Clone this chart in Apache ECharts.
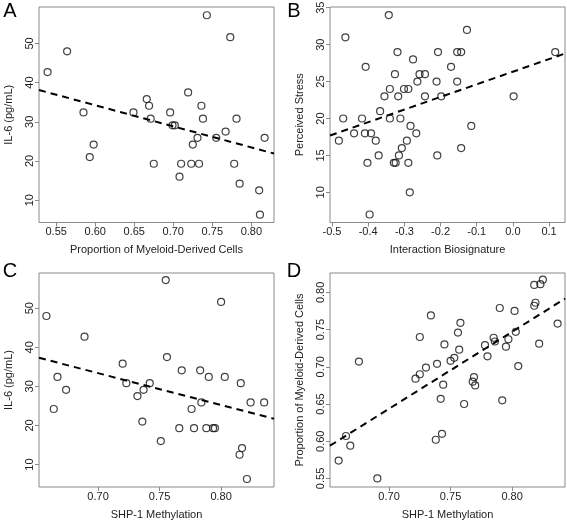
<!DOCTYPE html>
<html>
<head>
<meta charset="utf-8">
<script src="https://cdn.jsdelivr.net/npm/echarts@6/dist/echarts.min.js"></script>
<style>
html,body{margin:0;padding:0;background:#fff;}
#chart{width:567px;height:522px;}
</style>
</head>
<body>
<div id="chart"></div>
<script>
// ---- Panel A: Proportion of Myeloid-Derived Cells vs IL-6 ----
const aX = [0.539,0.564,0.585,0.593,0.598,0.649,0.666,0.669,0.671,0.675,0.696,0.699,0.702,0.708,0.710,0.719,0.723,0.725,0.731,0.733,0.736,0.738,0.743,0.755,0.767,0.773,0.778,0.781,0.785,0.810,0.811,0.817];
const aY = [42.7,48.0,32.4,21.0,24.2,32.4,35.8,34.1,30.8,19.3,32.4,29.1,29.1,16.0,19.3,37.5,19.3,24.2,25.9,19.3,34.1,30.8,57.2,25.9,27.5,51.6,19.3,30.8,14.2,12.5,6.3,25.9];
const aFitX = [0.528, 0.829];
const aFitY = [38.1, 21.9];
const aXTicks = [0.55,0.60,0.65,0.70,0.75,0.80];
const aYTicks = [10,20,30,40,50];

// ---- Panel B: Interaction Biosignature vs Perceived Stress ----
const bX = [-0.481,-0.469,-0.463,-0.439,-0.417,-0.409,-0.407,-0.402,-0.396,-0.392,-0.379,-0.371,-0.367,-0.355,-0.343,-0.340,-0.340,-0.326,-0.329,-0.324,-0.319,-0.317,-0.315,-0.311,-0.307,-0.301,-0.293,-0.289,-0.289,-0.285,-0.283,-0.276,-0.267,-0.264,-0.258,-0.243,-0.243,-0.211,-0.209,-0.207,-0.198,-0.171,-0.154,-0.154,-0.143,-0.143,-0.127,-0.115,0.002,0.117];
const bY = [17,20,31,18,20,18,27,14,7,18,17,15,21,23,34,24,20,26,14,14,29,23,15,20,16,24,17,24,14,10,19,28,18,25,26,23,26,25,15,29,23,27,29,25,29,16,32,19,23,29];
const bFitX = [-0.5055, 0.144];
const bFitY = [17.7, 28.8];
const bXTicks = [-0.5,-0.4,-0.3,-0.2,-0.1,0.0,0.1];
const bYTicks = [10,15,20,25,30,35];

// ---- Panel C: SHP-1 Methylation vs IL-6 ----
const cX = [0.658,0.664,0.667,0.674,0.689,0.720,0.723,0.732,0.736,0.737,0.742,0.751,0.755,0.756,0.766,0.768,0.776,0.778,0.783,0.784,0.788,0.790,0.7935,0.795,0.800,0.803,0.815,0.816,0.817,0.821,0.824,0.835];
const cY = [48.0,24.2,32.4,29.1,42.7,35.8,30.8,27.5,21.0,29.1,30.8,16.0,57.2,37.5,19.3,34.1,24.2,19.3,34.1,25.9,19.3,32.4,19.3,19.3,51.6,32.4,12.5,30.8,14.2,6.3,25.9,25.9];
const cFitX = [0.652, 0.843];
const cFitY = [37.3, 21.7];
const cXTicks = [0.70,0.75,0.80];
const cYTicks = [10,20,30,40,50];

// ---- Panel D: SHP-1 Methylation vs Proportion of Myeloid-Derived Cells ----
const dX = [0.659,0.665,0.6685,0.6755,0.6905,0.7215,0.725,0.725,0.730,0.734,0.739,0.738,0.742,0.743,0.744,0.745,0.750,0.753,0.756,0.757,0.758,0.761,0.768,0.769,0.770,0.778,0.780,0.785,0.786,0.790,0.792,0.795,0.797,0.802,0.803,0.805,0.818,0.818,0.819,0.822,0.823,0.825,0.837];
const dY = [0.574,0.607,0.594,0.707,0.550,0.684,0.690,0.740,0.699,0.769,0.704,0.602,0.657,0.610,0.676,0.730,0.708,0.712,0.746,0.723,0.759,0.650,0.680,0.686,0.675,0.729,0.714,0.739,0.734,0.779,0.655,0.727,0.737,0.775,0.747,0.701,0.810,0.782,0.786,0.731,0.811,0.817,0.758];
const dFitX = [0.652, 0.843];
const dFitY = [0.594, 0.7915];
const dXTicks = [0.70,0.75,0.80];
const dYTicks = [0.55,0.60,0.65,0.70,0.75,0.80];

const FONT = "'Liberation Sans', Arial, sans-serif";
const TXT = '#222';
const BOX = '#8a8a8a';

const panels = [
  {letter:'A', grid:{left:39, top:7, width:235, height:215.5},
   xs:aX, ys:aY, fx:aFitX, fy:aFitY, xt:aXTicks, yt:aYTicks,
   xr:[0.528,0.829], yr:[4.3,59.3], xd:2, yd:0,
   xName:'Proportion of Myeloid-Derived Cells', yName:'IL-6 (pg/mL)', lx:10, ly:11},
  {letter:'B', grid:{left:330, top:7, width:235, height:215.5},
   xs:bX, ys:bY, fx:bFitX, fy:bFitY, xt:bXTicks, yt:bYTicks,
   xr:[-0.5055,0.144], yr:[5.92,35.1], xd:1, yd:0,
   xName:'Interaction Biosignature', yName:'Perceived Stress', lx:294, ly:11},
  {letter:'C', grid:{left:39, top:273, width:235, height:214},
   xs:cX, ys:cY, fx:cFitX, fy:cFitY, xt:cXTicks, yt:cYTicks,
   xr:[0.652,0.843], yr:[4.25,59.0], xd:2, yd:0,
   xName:'SHP-1 Methylation', yName:'IL-6 (pg/mL)', lx:10, ly:271},
  {letter:'D', grid:{left:330, top:273, width:235, height:214},
   xs:dX, ys:dY, fx:dFitX, fy:dFitY, xt:dXTicks, yt:dYTicks,
   xr:[0.652,0.843], yr:[0.5385,0.826], xd:2, yd:2,
   xName:'SHP-1 Methylation', yName:'Proportion of Myeloid-Derived Cells', lx:294, ly:271}
];

const option = {
  animation:false,
  backgroundColor:'#fff',
  grid:[], xAxis:[], yAxis:[], series:[], graphic:[]
};

panels.forEach((p,i)=>{
  option.grid.push(Object.assign({
    show:true, borderColor:BOX, borderWidth:1, backgroundColor:'transparent',
    containLabel:false, outerBoundsMode:'none'
  }, p.grid));
  option.xAxis.push({
    gridIndex:i, type:'value', min:p.xr[0], max:p.xr[1], position:'bottom',
    axisLine:{show:false, onZero:false}, splitLine:{show:false},
    axisTick:{show:true, length:4, lineStyle:{color:BOX}, customValues:p.xt},
    axisLabel:{customValues:p.xt, margin:4, color:TXT, fontSize:11, fontFamily:FONT,
      formatter:(v)=>Number(v).toFixed(p.xd)},
    name:p.xName, nameLocation:'middle', nameGap:22,
    nameTextStyle:{fontSize:11, color:TXT, fontFamily:FONT}
  });
  option.yAxis.push({
    gridIndex:i, type:'value', min:p.yr[0], max:p.yr[1], position:'left',
    axisLine:{show:false, onZero:false}, splitLine:{show:false},
    axisTick:{show:true, length:4, lineStyle:{color:BOX}, customValues:p.yt},
    axisLabel:{customValues:p.yt, margin:4, rotate:90, color:TXT, fontSize:11, fontFamily:FONT,
      formatter:(v)=>Number(v).toFixed(p.yd)},
    name:p.yName, nameLocation:'middle', nameGap:25,
    nameTextStyle:{fontSize:11, color:TXT, fontFamily:FONT}
  });
  option.series.push({
    type:'line', xAxisIndex:i, yAxisIndex:i, symbol:'none', silent:true,
    data:p.fx.map((x,k)=>[x,p.fy[k]]),
    lineStyle:{color:'#000', width:2, type:[7,5]}, z:2
  });
  option.series.push({
    type:'scatter', xAxisIndex:i, yAxisIndex:i, symbol:'circle', symbolSize:7, silent:true,
    data:p.xs.map((x,k)=>[x,p.ys[k]]),
    itemStyle:{color:'transparent', borderColor:'#111', borderWidth:1.2}, z:3
  });
  option.graphic.push({
    type:'text', x:p.lx, y:p.ly,
    style:{text:p.letter, font:'20px ' + FONT, fill:'#000', textAlign:'center', textVerticalAlign:'middle'}
  });
});

const chart = echarts.init(document.getElementById('chart'), null, {renderer:'canvas'});
chart.setOption(option);
</script>
</body>
</html>
